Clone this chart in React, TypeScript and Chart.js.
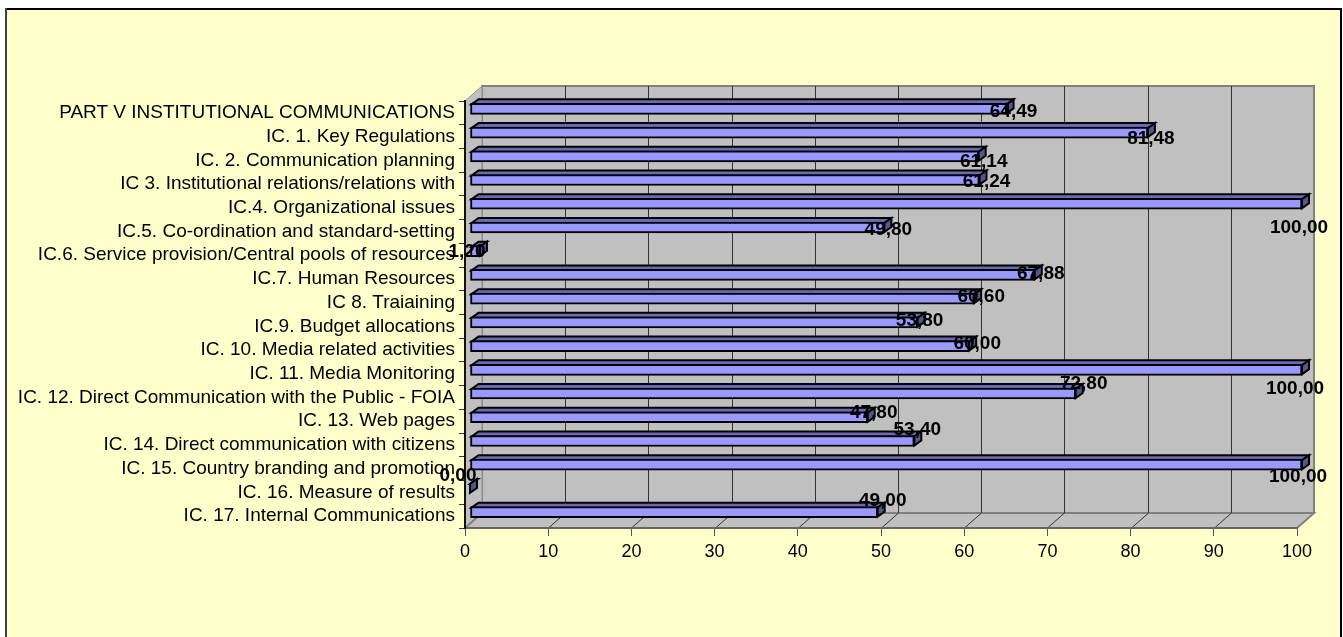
import React, { useEffect, useRef } from "react";
import { Chart, registerables } from "chart.js";

Chart.register(...registerables);

const categories = [
  "PART V INSTITUTIONAL COMMUNICATIONS",
  "IC. 1. Key Regulations",
  "IC. 2. Communication planning",
  "IC 3. Institutional relations/relations with",
  "IC.4. Organizational issues",
  "IC.5. Co-ordination and standard-setting",
  "IC.6. Service provision/Central pools of resources",
  "IC.7. Human Resources",
  "IC 8. Traiaining",
  "IC.9. Budget allocations",
  "IC. 10. Media related activities",
  "IC. 11. Media Monitoring",
  "IC. 12. Direct Communication with the Public - FOIA",
  "IC. 13. Web pages",
  "IC. 14. Direct communication with citizens",
  "IC. 15. Country branding and promotion",
  "IC. 16. Measure of results",
  "IC. 17. Internal Communications",
];

const values = [64.49, 81.48, 61.14, 61.24, 100, 49.8, 1.2, 67.88, 60.6, 53.8, 60, 100, 72.8, 47.8, 53.4, 100, 0, 49];

const valueTicks = [0, 10, 20, 30, 40, 50, 60, 70, 80, 90, 100];

// Hand placement of each data label relative to the end of its bar (the source chart's own scatter).
const labelShiftX = [7, 3, 5, 7, -3, 4, -13, 6, 7, 2, 8, -7, 8, 6, 3, -4, -12, 5];
const labelShiftY = [-1, 2, 1, -2, 20, -2, -3, -5, -6, -6, -6, 15, -14, -8, -15, 8, -17, -15];

const FONT = "'Liberation Sans', Arial, sans-serif";
const WALL_DX = 17;
const WALL_DY = -15;
const BAR_DX = 5;
const BAR_DY = -4;
const CAP_DX = 7;
const CAP_DY = -5;

function poly(ctx: CanvasRenderingContext2D, pts: number[][], fill: string | null, stroke: string | null, lw = 1) {
  ctx.beginPath();
  pts.forEach((p, i) => (i ? ctx.lineTo(p[0], p[1]) : ctx.moveTo(p[0], p[1])));
  ctx.closePath();
  if (fill) {
    ctx.fillStyle = fill;
    ctx.fill();
  }
  if (stroke) {
    ctx.strokeStyle = stroke;
    ctx.lineWidth = lw;
    ctx.stroke();
  }
}

const scenePlugin = {
  id: "scene",
  beforeDraw(chart: any) {
    const { ctx, chartArea: a, width, height } = chart;
    const x = chart.scales.x;
    ctx.save();
    ctx.fillStyle = "#ffffff";
    ctx.fillRect(0, 0, width, height);
    ctx.fillStyle = "#FFFFCC";
    ctx.fillRect(6, 9, 1335, height);
    ctx.fillStyle = "#000";
    ctx.fillRect(5, 8, 1337, 2);
    ctx.fillRect(1340, 8, 2, height);
    ctx.fillStyle = "#444";
    ctx.fillRect(5, 8, 2, height);

    // back wall
    poly(ctx, [
      [a.left + WALL_DX, a.top + WALL_DY],
      [a.right + WALL_DX, a.top + WALL_DY],
      [a.right + WALL_DX, a.bottom + WALL_DY],
      [a.left + WALL_DX, a.bottom + WALL_DY],
    ], "#C0C0C0", "#808080", 2);
    // left wall
    poly(ctx, [
      [a.left, a.top],
      [a.left + WALL_DX, a.top + WALL_DY],
      [a.left + WALL_DX, a.bottom + WALL_DY],
      [a.left, a.bottom],
    ], "#C0C0C0", "#909090", 1);
    // floor
    poly(ctx, [
      [a.left, a.bottom],
      [a.right, a.bottom],
      [a.right + WALL_DX, a.bottom + WALL_DY],
      [a.left + WALL_DX, a.bottom + WALL_DY],
    ], "#C0C0C0", "#808080", 2);

    // grid on the wall and floor
    valueTicks.forEach((t) => {
      const px = Math.round(x.getPixelForValue(t));
      if (t > 0 && t < 100) {
        ctx.strokeStyle = "#333";
        ctx.lineWidth = 1;
        ctx.beginPath();
        ctx.moveTo(px + WALL_DX + 0.5, a.top + WALL_DY);
        ctx.lineTo(px + WALL_DX + 0.5, a.bottom + WALL_DY);
        ctx.stroke();
        ctx.beginPath();
        ctx.moveTo(px + WALL_DX + 0.5, a.bottom + WALL_DY);
        ctx.lineTo(px + 0.5, a.bottom);
        ctx.stroke();
      }
    });
    ctx.restore();
  },
  beforeDatasetDraw(chart: any, args: any) {
    const { ctx } = chart;
    const meta = chart.getDatasetMeta(args.index);
    ctx.save();
    ctx.translate(BAR_DX, BAR_DY);
    ctx.lineJoin = "miter";
    meta.data.forEach((el: any) => {
      const { x, y, base, height } = el.getProps(["x", "y", "base", "height"], true);
      const t = y - height / 2 + 1;
      const b = y + height / 2 - 1;
      poly(ctx, [
        [base + 1, t],
        [base + 1 + CAP_DX, t + CAP_DY],
        [x + CAP_DX, t + CAP_DY],
        [x, t],
      ], "#6A6AB5", "#000", 2);
      poly(ctx, [
        [x, t],
        [x + CAP_DX, t + CAP_DY],
        [x + CAP_DX, b + CAP_DY],
        [x, b],
      ], "#55558F", "#000", 2);
    });
  },
  afterDatasetDraw(chart: any) {
    chart.ctx.restore();
  },
  afterDatasetsDraw(chart: any) {
    const { ctx } = chart;
    const xs = chart.scales.x;
    const ys = chart.scales.y;
    ctx.save();
    ctx.font = `bold 19px ${FONT}`;
    ctx.fillStyle = "#000";
    ctx.textAlign = "center";
    ctx.textBaseline = "middle";
    values.forEach((v, i) => {
      const text = v.toFixed(2).replace(".", ",");
      ctx.fillText(text, xs.getPixelForValue(v) + BAR_DX + labelShiftX[i], ys.getPixelForValue(i) + labelShiftY[i]);
    });
    ctx.restore();
  },
};

export default function App() {
  const ref = useRef<HTMLCanvasElement>(null);
  useEffect(() => {
    document.body.style.margin = "0";
    const chart = new Chart(ref.current as HTMLCanvasElement, {
      type: "bar",
      data: {
        labels: categories,
        datasets: [
          {
            data: values,
            backgroundColor: "#9999FF",
            borderColor: "#000",
            borderWidth: 2,
            borderSkipped: false,
            barThickness: 11,
            clip: false,
          } as any,
        ],
      },
      options: {
        indexAxis: "y",
        animation: false,
        responsive: false,
        layout: { padding: { top: 101, right: 46, left: 0, bottom: 0 } },
        plugins: { legend: { display: false }, tooltip: { enabled: false }, title: { display: false } },
        scales: {
          x: {
            type: "linear",
            min: 0,
            max: 100,
            afterFit: (s: any) => {
              s.height = 109;
            },
            afterBuildTicks: (s: any) => {
              s.ticks = valueTicks.map((value) => ({ value }));
            },
            grid: { drawOnChartArea: false, color: "#555", tickLength: 8, lineWidth: 1 },
            border: { display: true, color: "#666", width: 2 },
            ticks: { color: "#000", font: { family: FONT, size: 18 }, padding: 5, maxRotation: 0, autoSkip: false },
          },
          y: {
            type: "category",
            afterFit: (s: any) => {
              s.width = 465;
            },
            grid: { drawOnChartArea: false, color: "#333", tickLength: 6, lineWidth: 1 },
            border: { display: true, color: "#111", width: 2 },
            ticks: { color: "#000", font: { family: FONT, size: 19 }, padding: 4, autoSkip: false, maxRotation: 0 },
          },
        },
      } as any,
      plugins: [scenePlugin as any],
    });
    return () => chart.destroy();
  }, []);
  return <canvas ref={ref} width={1343} height={637} style={{ display: "block" }} />;
}
